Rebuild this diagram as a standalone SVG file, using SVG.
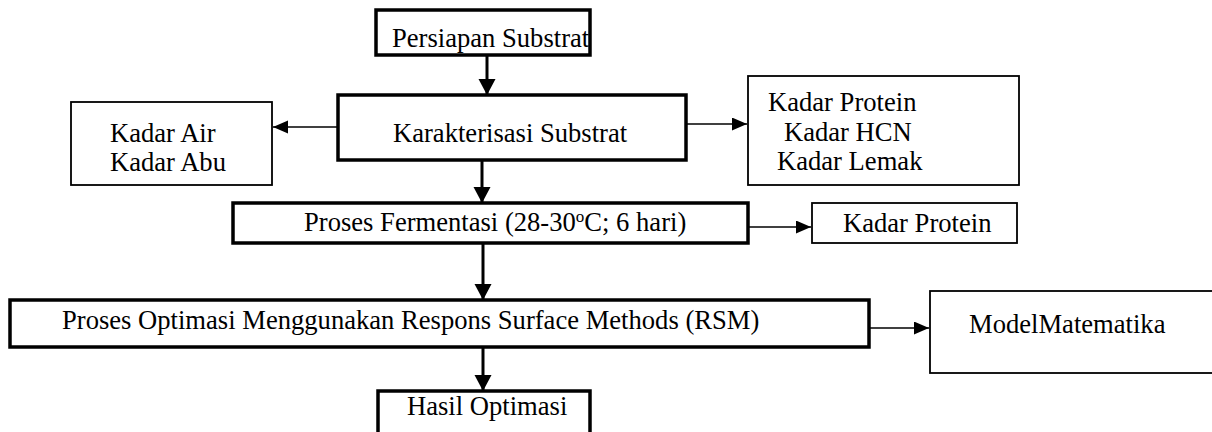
<svg xmlns="http://www.w3.org/2000/svg" width="1212" height="432" viewBox="0 0 1212 432">
<style>
text{font-family:"Liberation Serif","Times New Roman",serif;font-size:26.6px;fill:#000}
.thick{fill:#fff;stroke:#000;stroke-width:3.5}
.thin{fill:#fff;stroke:#000;stroke-width:1.8}
.ca{stroke:#000;stroke-width:3;fill:none}
.cn{stroke:#000;stroke-width:1.3;fill:none}
</style>
<defs>
<marker id="ah" markerUnits="userSpaceOnUse" markerWidth="18" markerHeight="18" refX="16" refY="8.5" orient="auto"><path d="M0,0 L16,8.5 L0,17 z" fill="#000"/></marker>
<marker id="an" markerUnits="userSpaceOnUse" markerWidth="16" markerHeight="14" refX="15" refY="6.5" orient="auto"><path d="M0,0 L15,6.5 L0,13 z" fill="#000"/></marker>
</defs>
<g id="connectors">
<line class="ca" x1="487" y1="55" x2="487" y2="95" marker-end="url(#ah)"/>
<line class="cn" x1="338" y1="127" x2="273" y2="127" marker-end="url(#an)"/>
<line class="cn" x1="686" y1="124" x2="747" y2="124" marker-end="url(#an)"/>
<line class="ca" x1="482" y1="160" x2="482" y2="203" marker-end="url(#ah)"/>
<line class="cn" x1="748" y1="227" x2="811" y2="227" marker-end="url(#an)"/>
<line class="ca" x1="483" y1="243" x2="483" y2="300" marker-end="url(#ah)"/>
<line class="cn" x1="869" y1="328" x2="929" y2="328" marker-end="url(#an)"/>
<line class="ca" x1="483" y1="347" x2="483" y2="391" marker-end="url(#ah)"/>
</g>
<g id="persiapan">
<rect class="thick" x="376" y="10" width="214" height="45"/>
<text x="392" y="47">Persiapan Substrat</text>
</g>
<g id="karakterisasi">
<rect class="thick" x="338" y="95" width="348" height="65"/>
<text x="393" y="142">Karakterisasi Substrat</text>
</g>
<g id="kadar-air-abu">
<rect class="thin" x="71" y="102" width="201" height="83"/>
<text x="110" y="142">Kadar Air</text>
<text x="110" y="171">Kadar Abu</text>
</g>
<g id="kadar-protein-hcn-lemak">
<rect class="thin" x="748" y="76" width="271" height="109"/>
<text x="768" y="111">Kadar Protein</text>
<text x="784" y="141">Kadar HCN</text>
<text x="777" y="170">Kadar Lemak</text>
</g>
<g id="fermentasi">
<rect class="thick" x="233" y="203" width="515" height="40"/>
<text x="304" y="231">Proses Fermentasi (28-30<tspan font-size="17" dy="-9">o</tspan><tspan dy="9">C; 6 hari)</tspan></text>
</g>
<g id="kadar-protein">
<rect class="thin" x="812" y="203" width="205" height="40"/>
<text x="843" y="232">Kadar Protein</text>
</g>
<g id="optimasi">
<rect class="thick" x="10" y="300" width="859" height="47"/>
<text x="62" y="329">Proses Optimasi Menggunakan Respons Surface Methods (RSM)</text>
</g>
<g id="model">
<rect class="thin" x="930" y="291" width="290" height="82"/>
<text x="969" y="333">ModelMatematika</text>
</g>
<g id="hasil">
<rect class="thick" x="378" y="391" width="212" height="50"/>
<text x="407" y="415">Hasil Optimasi</text>
</g>
</svg>
